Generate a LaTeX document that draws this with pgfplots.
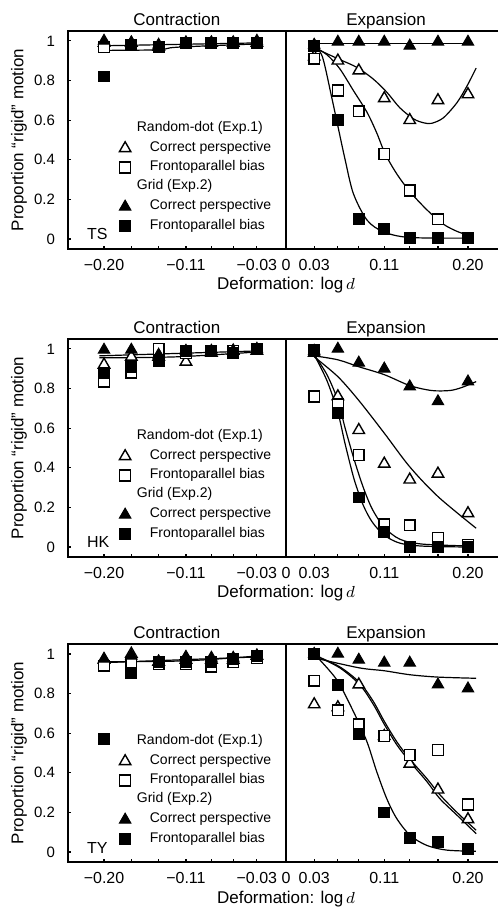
\documentclass[border=0pt]{standalone}
\usepackage{fontspec}
\setmainfont{Liberation Sans}
\usepackage{pgfplots}
\pgfplotsset{compat=1.18}
\newcommand{\fs}[1]{\fontsize{#1}{#1}\selectfont}
\pgfplotsset{
  otri/.style={only marks, mark=triangle*, mark size=3.3pt, mark options={fill=white, draw=black, line width=0.7pt, solid}},
  osq/.style={only marks, mark=square*, mark size=2.7pt, mark options={fill=white, draw=black, line width=0.7pt, solid}},
  ftri/.style={only marks, mark=triangle*, mark size=3.3pt, mark options={fill=black, draw=black, line width=0.5pt, solid}},
  fsq/.style={only marks, mark=square*, mark size=2.7pt, mark options={fill=black, draw=black, line width=0.5pt, solid}},
  fitl/.style={no marks, smooth, black, line width=0.6pt, forget plot},
  panel/.style={
    scale only axis, width=215pt, height=109pt,
    xmin=-0.2396, xmax=0.233, ymin=-0.05, ymax=1.05,
    axis line style={draw=none},
    xtick={-0.20,-0.17,-0.14,-0.11,-0.082,-0.058,-0.032,0.031,0.057,0.080,0.108,0.136,0.167,0.20},
    xticklabels={−0.20,,,−0.11,,,−0.03,0.03,,,0.11,,,0.20},
    extra x ticks={0}, extra x tick labels={0}, extra x tick style={major tick length=0pt},
    ytick={0,0.2,0.4,0.6,0.8,1}, yticklabels={0,0.2,0.4,0.6,0.8,1},
    xtick pos=bottom, ytick pos=left,
    major tick length=1.5pt,
    tick style={black, line width=0.6pt},
    xticklabel style={font=\fs{8}, yshift=-1.5pt},
    yticklabel style={font=\fs{7.5}, xshift=-3pt},
    clip=false,
    legend cell align=left,
    legend style={at={(axis cs:-0.196,0.59)}, anchor=north west, draw=none, fill=none,
      inner sep=0pt, row sep=3.8pt,
      nodes={inner ysep=0pt, text height=4.5pt, text depth=1.3pt},
      /tikz/every even column/.append style={column sep=1.5pt}},
  },
}
\newcommand{\panelframe}{%
  \draw[line width=1pt] (rel axis cs:1,1) -- (rel axis cs:0,1) -- (rel axis cs:0,0) -- (rel axis cs:1,0);
  \draw[line width=0.8pt] (axis cs:0,-0.05) -- (axis cs:0,1.05);
  \node[font=\fs{8.5}, anchor=base] at ([yshift=2.5pt]axis cs:-0.12,1.05) {Contraction};
  \node[font=\fs{8.5}, anchor=base] at ([yshift=2.5pt]axis cs:0.11,1.05) {Expansion};
  \node[font=\fs{8.5}, rotate=90, anchor=center] at ([xshift=-24.5pt]rel axis cs:0,0.5) {Proportion “rigid” motion};
  \node[font=\fs{8.5}, anchor=base] at ([yshift=-20.5pt]axis cs:0,-0.05) {Deformation: $\log d$};
}
\newcommand{\legendentries}{%
  \addlegendimage{empty legend}\addlegendentry{\fs{7}\hspace*{1pt}Random-dot (Exp.1)}
  \addlegendimage{otri}\addlegendentry{\fs{7}\hspace*{7.5pt}Correct perspective}
  \addlegendimage{osq}\addlegendentry{\fs{7}\hspace*{7.5pt}Frontoparallel bias}
  \addlegendimage{empty legend}\addlegendentry{\fs{7}\hspace*{1pt}Grid (Exp.2)}
  \addlegendimage{ftri}\addlegendentry{\fs{7}\hspace*{7.5pt}Correct perspective}
  \addlegendimage{fsq}\addlegendentry{\fs{7}\hspace*{7.5pt}Frontoparallel bias}
}
\begin{document}
\begin{tikzpicture}
\useasboundingbox (0,0) rectangle (249pt,454pt);
% ---------------- Panel 1: TS ----------------
\begin{axis}[panel, at={(34pt,329.5pt)}, anchor=south west]
\panelframe
\node[font=\fs{8}, anchor=base west] at ([xshift=6pt,yshift=4.5pt]rel axis cs:0,0) {TS};
\addplot[fitl] coordinates {(-0.205,0.952) (-0.14,0.955) (-0.12,0.968) (-0.03,0.985)};
\addplot[fitl] coordinates {(-0.205,0.975) (-0.03,0.99)};
\addplot[fitl] coordinates {(0.031,0.985) (0.205,0.985)};
\addplot[fitl] coordinates {(0.031,0.965) (0.057,0.91) (0.078,0.866) (0.096,0.807) (0.111,0.74) (0.125,0.663) (0.14,0.607) (0.151,0.587) (0.16,0.584) (0.173,0.612) (0.188,0.689) (0.199,0.773) (0.209,0.863)};
\addplot[fitl] coordinates {(0.031,0.97) (0.045,0.93) (0.059,0.86) (0.074,0.75) (0.089,0.64) (0.0996,0.537) (0.109,0.43) (0.1216,0.33) (0.136,0.24) (0.155,0.147) (0.173,0.075) (0.19,0.035) (0.205,0.015)};
\addplot[fitl] coordinates {(0.031,0.975) (0.04,0.92) (0.05,0.72) (0.057,0.57) (0.065,0.40) (0.074,0.23) (0.089,0.096) (0.107,0.037) (0.136,0.008) (0.205,0.005)};
\addplot[otri, forget plot] coordinates {(-0.20,0.99) (-0.17,0.99) (-0.14,0.97) (-0.11,0.99) (-0.082,0.99) (-0.058,0.99) (-0.032,0.99)
  (0.031,0.92) (0.057,0.90) (0.080,0.85) (0.108,0.71) (0.136,0.60) (0.167,0.70) (0.20,0.73)};
\addplot[osq, forget plot] coordinates {(-0.20,0.97) (-0.17,0.98) (-0.14,0.97) (-0.11,0.99) (-0.082,0.99) (-0.058,0.99) (-0.032,0.99)
  (0.031,0.91) (0.057,0.75) (0.080,0.645) (0.108,0.43) (0.136,0.245) (0.167,0.10) (0.20,0.005)};
\addplot[ftri, forget plot] coordinates {(-0.20,1.0) (-0.17,0.99) (-0.14,0.98) (-0.11,0.99) (-0.082,0.99) (-0.058,0.99) (-0.032,1.0)
  (0.031,0.98) (0.057,0.995) (0.080,0.995) (0.108,0.995) (0.136,0.975) (0.167,0.995) (0.20,0.995)};
\addplot[fsq, forget plot] coordinates {(-0.20,0.82) (-0.17,0.98) (-0.14,0.97) (-0.11,0.99) (-0.082,0.99) (-0.058,0.99) (-0.032,0.99)
  (0.031,0.975) (0.057,0.60) (0.080,0.10) (0.108,0.05) (0.136,0.005) (0.167,0.005) (0.20,0.005)};
\legendentries
\end{axis}
% ---------------- Panel 2: HK ----------------
\begin{axis}[panel, at={(34pt,175.5pt)}, anchor=south west]
\panelframe
\node[font=\fs{8}, anchor=base west] at ([xshift=6pt,yshift=4.5pt]rel axis cs:0,0) {HK};
\addplot[fitl] coordinates {(-0.205,0.965) (-0.03,0.99)};
\addplot[fitl] coordinates {(-0.205,0.955) (-0.12,0.96) (-0.03,0.985)};
\addplot[fitl] coordinates {(0.031,0.965) (0.057,0.945) (0.080,0.91) (0.108,0.87) (0.136,0.815) (0.16,0.79) (0.18,0.79) (0.193,0.805) (0.209,0.835)};
\addplot[fitl] coordinates {(0.031,0.96) (0.057,0.86) (0.080,0.74) (0.108,0.575) (0.136,0.405) (0.167,0.255) (0.209,0.095)};
\addplot[fitl] coordinates {(0.031,0.97) (0.045,0.87) (0.057,0.74) (0.065,0.60) (0.075,0.44) (0.085,0.30) (0.095,0.19) (0.108,0.10) (0.125,0.04) (0.15,0.015) (0.205,0.005)};
\addplot[fitl] coordinates {(0.031,0.97) (0.045,0.84) (0.057,0.68) (0.065,0.52) (0.075,0.34) (0.085,0.21) (0.095,0.125) (0.108,0.06) (0.125,0.02) (0.15,0.005) (0.205,0.0)};
\addplot[otri, forget plot] coordinates {(-0.20,0.92) (-0.17,0.96) (-0.14,0.96) (-0.11,0.935) (-0.082,0.98) (-0.058,0.99) (-0.032,0.99)
  (0.031,0.98) (0.057,0.76) (0.080,0.59) (0.108,0.42) (0.136,0.34) (0.167,0.37) (0.20,0.17)};
\addplot[osq, forget plot] coordinates {(-0.20,0.835) (-0.17,0.88) (-0.14,1.0) (-0.11,0.98) (-0.082,0.99) (-0.058,0.99) (-0.032,1.0)
  (0.031,0.76) (0.057,0.72) (0.080,0.465) (0.108,0.115) (0.136,0.11) (0.167,0.045) (0.20,0.01)};
\addplot[ftri, forget plot] coordinates {(-0.20,0.995) (-0.17,0.995) (-0.14,0.97) (-0.11,0.99) (-0.082,0.99) (-0.058,0.99) (-0.032,1.0)
  (0.031,0.99) (0.057,1.0) (0.080,0.93) (0.108,0.90) (0.136,0.81) (0.167,0.735) (0.20,0.835)};
\addplot[fsq, forget plot] coordinates {(-0.20,0.88) (-0.17,0.91) (-0.14,0.94) (-0.11,0.99) (-0.082,0.99) (-0.058,0.98) (-0.032,1.0)
  (0.031,0.995) (0.057,0.675) (0.080,0.25) (0.108,0.077) (0.136,0.0) (0.167,0.0) (0.20,0.0)};
\legendentries
\end{axis}
% ---------------- Panel 3: TY ----------------
\begin{axis}[panel, at={(34pt,23pt)}, anchor=south west]
\panelframe
\node[font=\fs{8}, anchor=base west] at ([xshift=6pt,yshift=4.5pt]rel axis cs:0,0) {TY};
\addplot[fitl] coordinates {(-0.205,0.955) (-0.03,0.985)};
\addplot[fitl] coordinates {(-0.205,0.96) (-0.11,0.965) (-0.03,0.99)};
\addplot[fitl] coordinates {(0.031,0.98) (0.080,0.93) (0.108,0.915) (0.136,0.895) (0.167,0.883) (0.209,0.877)};
\addplot[fitl] coordinates {(0.033,0.99) (0.0557,0.87) (0.074,0.71) (0.0887,0.56) (0.0997,0.406) (0.1107,0.27) (0.1216,0.17) (0.1363,0.085) (0.1546,0.034) (0.1766,0.01) (0.2088,0.004)};
\addplot[fitl] coordinates {(0.033,0.99) (0.059,0.93) (0.081,0.845) (0.096,0.745) (0.108,0.645) (0.122,0.54) (0.136,0.457) (0.155,0.355) (0.169,0.27) (0.188,0.186) (0.209,0.093)};
\addplot[fitl] coordinates {(0.033,0.99) (0.059,0.935) (0.081,0.855) (0.096,0.76) (0.108,0.66) (0.122,0.555) (0.136,0.47) (0.155,0.37) (0.169,0.29) (0.188,0.20) (0.209,0.11)};
\addplot[otri, forget plot] coordinates {(-0.20,0.97) (-0.17,1.0) (-0.14,0.96) (-0.11,0.97) (-0.082,0.97) (-0.058,0.97) (-0.032,0.99)
  (0.031,0.745) (0.057,0.73) (0.080,0.845) (0.108,0.585) (0.136,0.445) (0.167,0.315) (0.20,0.165)};
\addplot[osq, forget plot] coordinates {(-0.20,0.94) (-0.17,0.95) (-0.14,0.95) (-0.11,0.95) (-0.082,0.935) (-0.058,0.96) (-0.032,0.98)
  (0.031,0.865) (0.057,0.715) (0.080,0.645) (0.108,0.585) (0.136,0.49) (0.167,0.515) (0.20,0.24)};
\addplot[ftri, forget plot] coordinates {(-0.20,0.975) (-0.17,0.99) (-0.14,0.96) (-0.11,0.985) (-0.082,0.98) (-0.058,0.98) (-0.032,0.99)
  (0.031,1.0) (0.057,1.0) (0.080,0.97) (0.108,0.955) (0.136,0.955) (0.167,0.845) (0.20,0.825)};
\addplot[fsq, forget plot] coordinates {(-0.20,0.57) (-0.17,0.905) (-0.14,0.96) (-0.11,0.96) (-0.082,0.96) (-0.058,0.975) (-0.032,0.99)
  (0.031,1.0) (0.057,0.845) (0.080,0.595) (0.108,0.20) (0.136,0.07) (0.167,0.05) (0.20,0.017)};
\legendentries
\end{axis}
\end{tikzpicture}
\end{document}
